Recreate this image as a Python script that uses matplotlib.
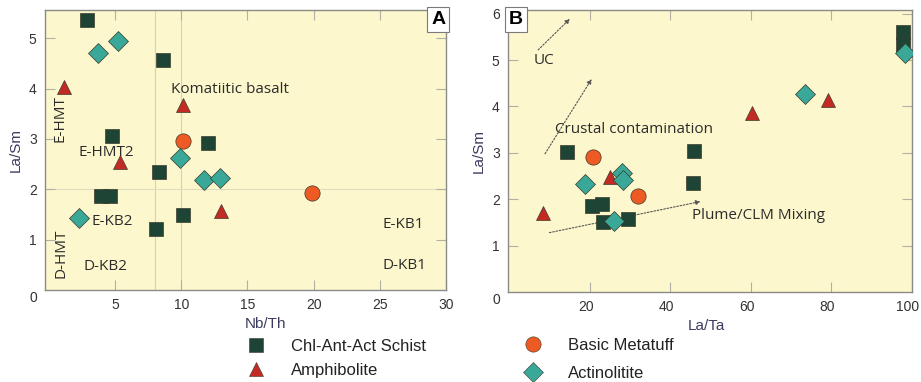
import matplotlib

matplotlib.use("Agg")
import matplotlib.pyplot as plt
from matplotlib.lines import Line2D
from matplotlib.transforms import ScaledTranslation

# ---- panel A : Nb/Th vs La/Sm ----
schist_a_x = [2.9, 8.6, 4.8, 12.0, 8.3, 3.9, 4.6, 10.1, 8.1]
schist_a_y = [5.36, 4.56, 3.06, 2.91, 2.35, 1.87, 1.87, 1.49, 1.22]
amph_a_x = [1.15, 10.1, 5.4, 13.0]
amph_a_y = [4.03, 3.67, 2.55, 1.57]
tuff_a_x = [10.1, 19.85]
tuff_a_y = [2.96, 1.92]
actin_a_x = [3.7, 5.2, 9.9, 11.7, 12.9, 2.3]
actin_a_y = [4.71, 4.94, 2.63, 2.18, 2.22, 1.42]

field_labels_a = ["Komatiitic basalt", "E-HMT2", "E-KB2", "E-KB1", "D-KB2", "D-KB1"]
field_x_a = [9.2, 2.2, 3.2, 25.2, 2.6, 25.2]
field_y_a = [3.99, 2.74, 1.37, 1.31, 0.46, 0.48]
rot_labels_a = ["E-HMT", "D-HMT"]
rot_x_a = [0.86, 0.94]
rot_y_a = [3.41, 0.73]

# ---- panel B : La/Ta vs La/Sm ----
schist_b_x = [97.9, 97.9, 14.2, 45.9, 45.7, 20.4, 22.9, 23.3, 29.5]
schist_b_y = [5.60, 5.32, 3.01, 3.03, 2.36, 1.85, 1.90, 1.51, 1.58]
amph_b_x = [8.4, 24.9, 60.2, 79.3]
amph_b_y = [1.71, 2.48, 3.87, 4.14]
tuff_b_x = [20.8, 32.0]
tuff_b_y = [2.91, 2.08]
actin_b_x = [98.3, 73.5, 18.7, 28.0, 28.1, 25.9]
actin_b_y = [5.16, 4.26, 2.32, 2.57, 2.41, 1.53]

trend_labels_b = ["UC", "Crustal contamination", "Plume/CLM Mixing"]
trend_text_x = [5.9, 11.3, 45.3]
trend_text_y = [5.0, 3.51, 1.65]
arrow_start = [(7.1, 5.22), (8.8, 2.98), (9.9, 1.28)]
arrow_end = [(15.0, 5.89), (20.4, 4.59), (47.5, 1.95)]

groups = ["Chl-Ant-Act Schist", "Amphibolite", "Basic Metatuff", "Actinolitite"]
markers = ["s", "^", "o", "D"]
colors = ["#1d4434", "#c42a24", "#ee5a24", "#3aa898"]
sizes = [10, 10.5, 11, 10]

bg = "#fdf7cd"
txt = "#2b2b2b"
lab = "#3c3c60"
narrow = ["Liberation Sans Narrow", "Liberation Sans", "DejaVu Sans"]
plt.rcParams["font.family"] = ["Open Sans", "DejaVu Sans"]

fig = plt.figure(figsize=(9.21, 3.82), dpi=100)
ax_a = fig.add_axes([45 / 921, 1 - 290 / 382, 401 / 921, 280 / 382])
ax_b = fig.add_axes([508 / 921, 1 - 292 / 382, 404 / 921, 282 / 382])


def draw_groups(ax, data):
    # squares first, then circles, triangles, diamonds on top
    for i in [0, 2, 1, 3]:
        xs, ys = data[i]
        ax.plot(xs, ys, linestyle="none", marker=markers[i], ms=sizes[i],
                mfc=colors[i], mec="#3a3a2a", mew=0.5, zorder=3 + i)


def style_axes(ax):
    ax.set_facecolor(bg)
    for sp in ax.spines.values():
        sp.set_color("#8a8a86")
        sp.set_linewidth(1.0)
    ax.tick_params(direction="in", length=7, width=0.8, color="#b0b0a4",
                   top=True, right=True, labelsize=10, labelcolor="#333333", pad=6)
    for t in ax.get_xticklabels() + ax.get_yticklabels():
        t.set_family(narrow)


draw_groups(ax_a, [(schist_a_x, schist_a_y), (amph_a_x, amph_a_y),
                   (tuff_a_x, tuff_a_y), (actin_a_x, actin_a_y)])
ax_a.set_xlim(-0.3, 30.0)
ax_a.set_ylim(0, 5.56)
ax_a.set_xticks([5, 10, 15, 20, 25, 30])
ax_a.set_yticks([1, 2, 3, 4, 5])
for v in [8, 10]:
    ax_a.axvline(v, color="#d6d2b6", lw=0.8, zorder=1)
ax_a.axhline(2, color="#e0dcc0", lw=0.8, zorder=1)
style_axes(ax_a)
ax_a.set_xlabel("Nb/Th", family=narrow, fontsize=11, color=lab)
ax_a.xaxis.set_label_coords(0.55, -0.095)
ax_a.set_ylabel("La/Sm", family=narrow, fontsize=11, color=lab, labelpad=4)
ax_a.text(-0.02, -0.03, "0", transform=ax_a.transAxes, ha="right", va="center",
          family=narrow, fontsize=10, color="#333333")
for s, x, y in zip(field_labels_a, field_x_a, field_y_a):
    ax_a.text(x, y, s, ha="left", va="center", fontsize=11, color=txt, zorder=4)
for s, x, y in zip(rot_labels_a, rot_x_a, rot_y_a):
    ax_a.text(x, y, s, ha="center", va="center", rotation=90, fontsize=11, color=txt, zorder=4)
ax_a.text(0.998, 0.997, "A", transform=ax_a.transAxes, ha="right", va="top",
          fontsize=14, fontweight="bold", family=["Liberation Sans", "DejaVu Sans"], zorder=10,
          bbox=dict(boxstyle="square,pad=0.22", fc="white", ec="#7a7a7a", lw=0.8))

draw_groups(ax_b, [(schist_b_x, schist_b_y), (amph_b_x, amph_b_y),
                   (tuff_b_x, tuff_b_y), (actin_b_x, actin_b_y)])
ax_b.set_xlim(-0.4, 100.1)
ax_b.set_ylim(0, 6.08)
ax_b.set_xticks([20, 40, 60, 80, 100])
ax_b.set_yticks([1, 2, 3, 4, 5, 6])
style_axes(ax_b)
shift = ScaledTranslation(-4 / 100, 0, fig.dpi_scale_trans)
for t in ax_b.get_xticklabels():
    t.set_transform(t.get_transform() + shift)
ax_b.set_xlabel("La/Ta", family=narrow, fontsize=11, color=lab)
ax_b.xaxis.set_label_coords(0.49, -0.095)
ax_b.set_ylabel("La/Sm", family=narrow, fontsize=11, color=lab, labelpad=4)
ax_b.text(-0.02, -0.03, "0", transform=ax_b.transAxes, ha="right", va="center",
          family=narrow, fontsize=10, color="#333333")
for s, x, y in zip(trend_labels_b, trend_text_x, trend_text_y):
    ax_b.text(x, y, s, ha="left", va="center", fontsize=11, color=txt, zorder=4)
for p0, p1 in zip(arrow_start, arrow_end):
    ax_b.annotate("", xy=p1, xytext=p0, zorder=2,
                  arrowprops=dict(arrowstyle="-|>", linestyle=(0, (1.5, 1.5)), color="#555555",
                                  lw=0.8, mutation_scale=7, shrinkA=0, shrinkB=0))
ax_b.text(0.002, 0.997, "B", transform=ax_b.transAxes, ha="left", va="top",
          fontsize=14, fontweight="bold", family=["Liberation Sans", "DejaVu Sans"], zorder=10,
          bbox=dict(boxstyle="square,pad=0.22", fc="white", ec="#7a7a7a", lw=0.8))

handles = [Line2D([], [], linestyle="none", marker=m, ms=s, mfc=c, mec="#3a3a2a", mew=0.4)
           for m, c, s in zip(markers, colors, sizes)]
leg_kw = dict(frameon=False, borderpad=0, borderaxespad=0, handlelength=1.0, handletextpad=1.6,
              prop={"family": narrow, "size": 12}, labelcolor="#222222", loc="upper left")
fig.legend(handles[:2], groups[:2], bbox_to_anchor=(248 / 921, 1 - 339 / 382),
           labelspacing=0.52, **leg_kw)
fig.legend(handles[2:], groups[2:], bbox_to_anchor=(525 / 921, 1 - 338 / 382),
           labelspacing=0.75, **leg_kw)

fig.savefig("out.png", dpi=100, facecolor="white")
